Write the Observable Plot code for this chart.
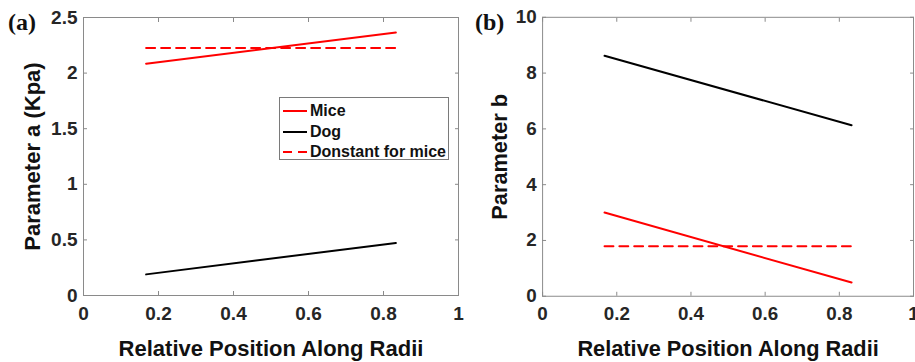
<!DOCTYPE html>
<html>
<head>
<meta charset="utf-8">
<script src="https://cdn.jsdelivr.net/npm/d3@7"></script>
<script src="https://cdn.jsdelivr.net/npm/@observablehq/plot@0.6"></script>
<style>
  html, body { margin: 0; padding: 0; background: #fff; overflow: hidden; }
  #wrap { position: relative; width: 915px; height: 362px; font-family: "Liberation Sans", Arial, sans-serif; }
  .panel { position: absolute; top: 0; }
  .plabel { position: absolute; font-family: "Liberation Serif", "Times New Roman", serif; font-weight: bold; font-size: 24px; color: #111; line-height: 1; }
  #legend { position: absolute; left: 279px; top: 97px; width: 170px; height: 63px; border: 1px solid #7a7a7a; background: #fff; box-sizing: border-box; }
  .lrow { position: absolute; left: 2px; height: 20px; display: flex; align-items: center; font-weight: bold; font-size: 16px; color: #111; white-space: nowrap; }
  .lrow svg { margin-right: 3px; }
</style>
</head>
<body>
<div id="wrap">
  <div class="panel" id="pa" style="left:0px"></div>
  <div class="panel" id="pb" style="left:460px"></div>
  <div class="plabel" style="left:8px; top:10px">(a)</div>
  <div class="plabel" style="left:475px; top:10px">(b)</div>
  <div id="legend"></div>
</div>
<script>
// ---- data ----
const xPos = [0.167, 0.833];
const miceA = [2.085, 2.365];
const dogA = [0.19, 0.473];
const constMiceA = [2.225, 2.225];
const miceB = [3.0, 0.49];
const dogB = [8.62, 6.13];
const constMiceB = [1.79, 1.79];
const seriesNames = ["Mice", "Dog", "Donstant for mice"];
const seriesColors = ["#ff0000", "#000000", "#ff0000"];
const seriesDash = [null, null, "9,6"];
const xTicks = [0, 0.2, 0.4, 0.6, 0.8, 1];
const yTicksA = [0, 0.5, 1, 1.5, 2, 2.5];
const yTicksB = [0, 2, 4, 6, 8, 10];
const xLabel = "Relative Position Along Radii";
const yLabelA = "Parameter a (Kpa)";
const yLabelB = "Parameter b";

function rows(ys, name) { return xPos.map((x, i) => ({x, y: ys[i], name})); }

function panel({series, yDomain, yTicks, yLabel, height, marginBottom, yLabelOffset}) {
  const fmt = d => String(d);
  const tk = {tickSize: -4, tickFormat: () => "", stroke: "#8a8a8a", label: null};
  const marks = [
    Plot.frame({stroke: "#8a8a8a", strokeWidth: 1}),
    // inward tick marks on all four sides
    Plot.axisX(xTicks, {anchor: "bottom", ...tk}),
    Plot.axisX(xTicks, {anchor: "top", ...tk}),
    Plot.axisY(yTicks, {anchor: "left", ...tk}),
    Plot.axisY(yTicks, {anchor: "right", ...tk}),
    // tick labels
    Plot.axisX(xTicks, {anchor: "bottom", tickSize: 0, tickPadding: 11, tickFormat: fmt, fontSize: 19, fontWeight: "bold", fill: "#262626", label: null}),
    Plot.axisY(yTicks, {anchor: "left", tickSize: 0, tickPadding: 6, tickFormat: fmt, fontSize: 19, fontWeight: "bold", fill: "#262626", label: null}),
    // axis titles
    Plot.text([xLabel], {text: d => d, frameAnchor: "bottom", dy: 53, lineAnchor: "middle", fontSize: 22, fontWeight: "bold", fill: "#111"}),
    Plot.text([yLabel], {text: d => d, frameAnchor: "left", dx: -yLabelOffset, rotate: -90, lineAnchor: "middle", textAnchor: "middle", fontSize: 22, fontWeight: "bold", fill: "#111"})
  ];
  series.forEach((s, i) => {
    marks.push(Plot.line(rows(s, seriesNames[i]), {x: "x", y: "y", stroke: seriesColors[i], strokeWidth: 2, strokeDasharray: seriesDash[i]}));
  });
  return Plot.plot({
    width: 460,
    height,
    marginLeft: 83,
    marginRight: 2,
    marginTop: 17,
    marginBottom,
    x: {domain: [0, 1], axis: null},
    y: {domain: yDomain, axis: null},
    style: {fontFamily: "'Liberation Sans', Arial, sans-serif", background: "transparent", overflow: "visible"},
    marks
  });
}

document.getElementById("pa").appendChild(panel({
  series: [miceA, dogA, constMiceA], yDomain: [0, 2.5], yTicks: yTicksA,
  yLabel: yLabelA, height: 362, marginBottom: 67, yLabelOffset: 51
}));
document.getElementById("pb").appendChild(panel({
  series: [miceB, dogB, constMiceB], yDomain: [0, 10], yTicks: yTicksB,
  yLabel: yLabelB, height: 362, marginBottom: 63, yLabelOffset: 43
}));

// legend
const leg = document.getElementById("legend");
seriesNames.forEach((n, i) => {
  const r = document.createElement("div");
  r.className = "lrow";
  r.style.top = (3 + i * 20.5) + "px";
  r.innerHTML = `<svg width="25" height="4"><line x1="1" y1="2" x2="25" y2="2" stroke="${seriesColors[i]}" stroke-width="2" ${seriesDash[i] ? `stroke-dasharray="${seriesDash[i]}"` : ""}/></svg><span>${n}</span>`;
  leg.appendChild(r);
});
</script>
</body>
</html>
